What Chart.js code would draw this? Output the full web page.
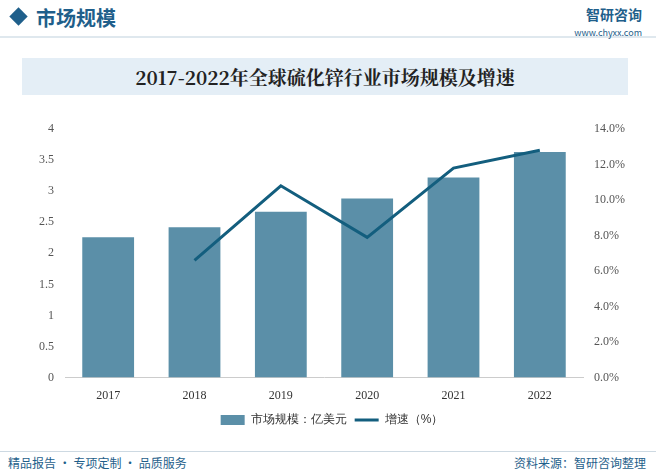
<!DOCTYPE html>
<html><head><meta charset="utf-8">
<script src="https://cdn.jsdelivr.net/npm/chart.js@4"></script>
<style>
body{margin:0;width:656px;height:472px;background:#fff;font-family:"Noto Sans CJK SC",sans-serif;position:relative;overflow:hidden}
#hd{position:absolute;left:0;top:0;width:656px;height:36px;border-bottom:2px solid #dfe8ee}
#dia{position:absolute;left:12px;top:10px;width:13px;height:13px;background:#1f5f8b;transform:rotate(45deg)}
#ht{position:absolute;left:36px;top:3px;font-size:20px;font-weight:bold;color:#1f5f8b}
#logo{position:absolute;right:14px;top:4px;font-size:14px;font-weight:bold;color:#1f5f8b}
#url{position:absolute;right:14px;top:26px;font-size:9px;color:#1f5f8b}
#tb{position:absolute;left:22px;top:58px;width:606px;height:37px;background:#e4eef6;text-align:center;line-height:37px;font-size:19px;font-weight:bold;color:#222;font-family:"Noto Serif CJK SC","Liberation Serif","Noto Sans CJK SC",serif}
#wrap{position:absolute;left:20px;top:116px;width:612px;height:320px}
#ft{position:absolute;left:0;top:451px;width:656px;height:21px;border-top:1px solid #cdd9e2;font-size:12px;color:#1f5f8b}
#fl{position:absolute;left:8px;top:2px}#fr{position:absolute;right:10px;top:2px}
</style></head><body>
<div id="hd"><div id="dia"></div><div id="ht">市场规模</div><div id="logo">智研咨询</div><div id="url">www.chyxx.com</div></div>
<div id="tb">2017-2022年全球硫化锌行业市场规模及增速</div>
<div id="wrap"><canvas id="c"></canvas></div>
<div id="ft"><span id="fl">精品报告 · 专项定制 · 品质服务</span><span id="fr">资料来源：智研咨询整理</span></div>
<script>
const years = ['2017','2018','2019','2020','2021','2022'];
const marketSize = [2.26, 2.42, 2.67, 2.88, 3.22, 3.63];
const growth = [null, 6.6, 10.8, 7.9, 11.8, 12.8];
const serif = {family:'"Liberation Serif", serif', size:12};

new Chart(document.getElementById('c'), {
  data: {
    labels: years,
    datasets: [
      {type:'line', label:'增速（%）', data:growth, yAxisID:'y1', borderColor:'#135e7e', backgroundColor:'#135e7e', borderWidth:3, pointRadius:0, pointStyle:'line', tension:0, order:0},
      {type:'bar', label:'市场规模：亿美元', data:marketSize, yAxisID:'y', backgroundColor:'#5b8fa8', pointStyle:'rect', barPercentage:0.6, categoryPercentage:1, order:1}
    ]
  },
  options: {
    responsive:true, maintainAspectRatio:false, animation:false,
    layout:{padding:{left:16,right:4,top:13}},
    plugins:{legend:{position:'bottom', reverse:true, labels:{usePointStyle:true, pointStyleWidth:24, boxHeight:10, color:'#333', font:{size:12}, padding:8}}, tooltip:{enabled:false}},
    scales:{
      x:{grid:{display:false}, border:{color:'#ccc'}, ticks:{color:'#333', font:serif}},
      y:{min:0, max:4, ticks:{stepSize:0.5, color:'#555', font:serif, callback:v=>String(v)}, grid:{display:false}, border:{display:false}},
      y1:{position:'right', min:0, max:14, ticks:{stepSize:2, color:'#555', font:serif, callback:v=>v.toFixed(1)+'%'}, grid:{display:false}, border:{display:false}}
    }
  }
});
</script>
</body></html>
